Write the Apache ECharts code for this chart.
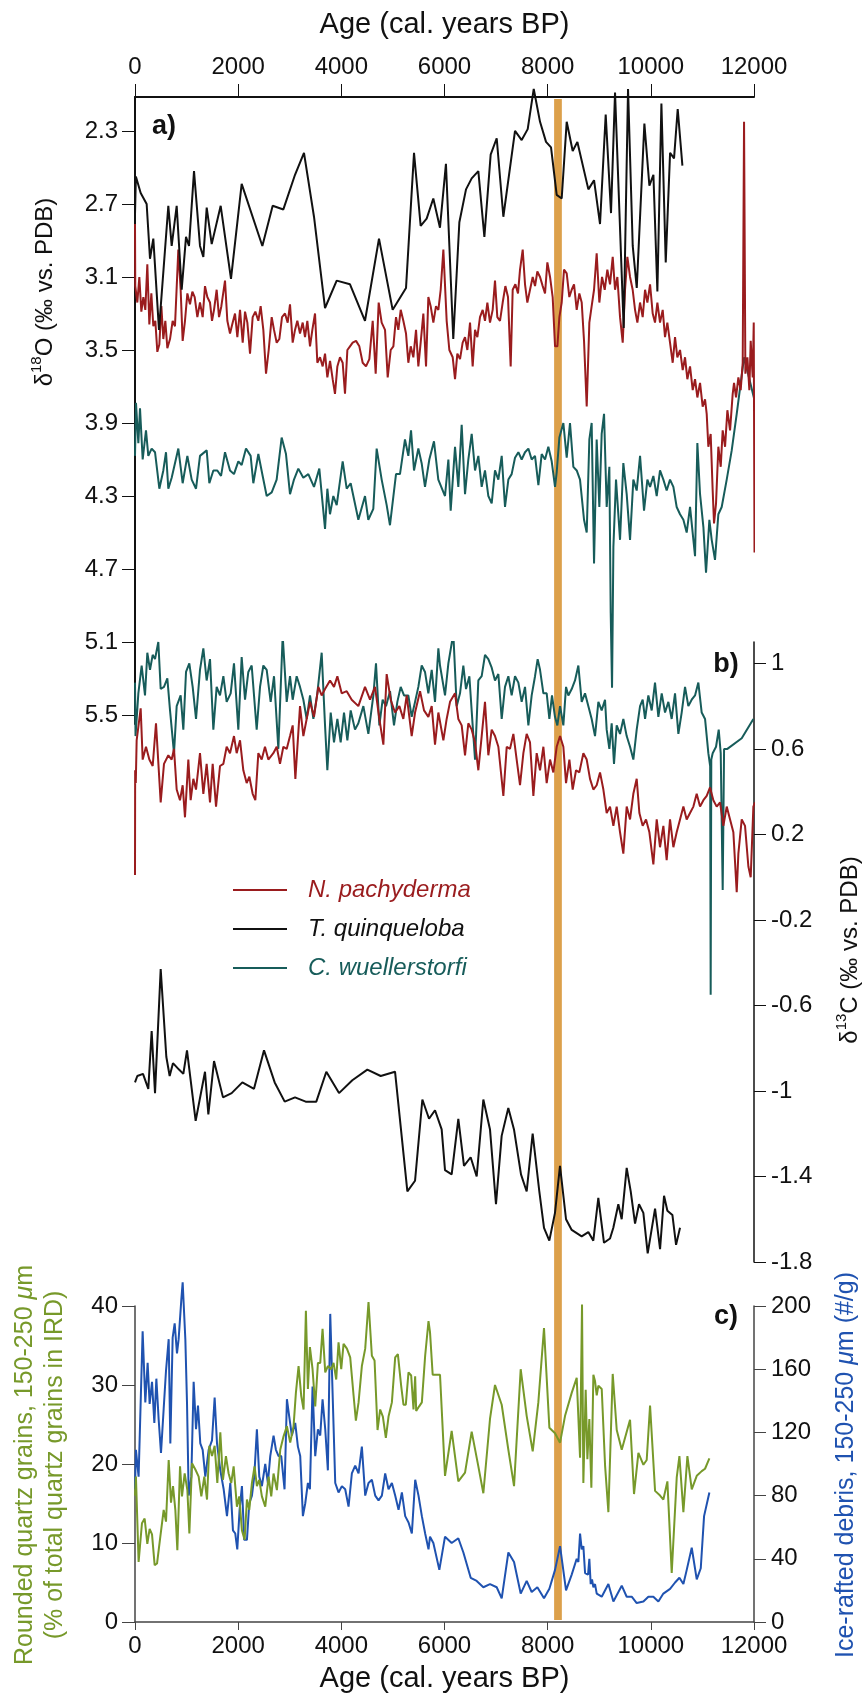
<!DOCTYPE html>
<html>
<head>
<meta charset="utf-8">
<script src="https://cdn.jsdelivr.net/npm/echarts@6/dist/echarts.min.js"></script>
<style>
html,body{margin:0;padding:0;background:#fff}
#chart{width:863px;height:1694px}
</style>
</head>
<body>
<div id="chart"></div>
<script>
// ages in cal. years BP
var ageRange = [0, 12000];
var o18Ticks = [2.3, 2.7, 3.1, 3.5, 3.9, 4.3, 4.7, 5.1, 5.5];
var c13Ticks = [1, 0.6, 0.2, -0.2, -0.6, -1, -1.4, -1.8];
var eventBand = [8125, 8275]; // orange bar ~8.2 ka

// a) d18O
var pachyO18 = [[0,2.81],[5,3.15],[20,3.14],[45,3.24],[84,3.10],[123,3.29],[162,3.21],[200,3.28],[239,3.03],[278,3.36],[317,3.19],[355,3.37],[394,3.34],[433,3.51],[472,3.47],[511,3.26],[549,3.44],[588,3.34],[627,3.49],[679,3.44],[730,3.34],[775,3.37],[840,2.95],[885,3.17],[924,3.45],[969,3.34],[1015,3.19],[1066,3.25],[1112,3.18],[1157,3.21],[1209,3.32],[1260,3.24],[1312,3.32],[1357,3.15],[1402,3.21],[1454,3.24],[1493,3.34],[1532,3.28],[1583,3.17],[1629,3.32],[1674,3.26],[1745,3.12],[1790,3.34],[1842,3.41],[1894,3.35],[1939,3.30],[1984,3.43],[2036,3.28],[2088,3.46],[2133,3.29],[2178,3.35],[2230,3.52],[2281,3.32],[2333,3.29],[2391,3.34],[2436,3.26],[2488,3.39],[2540,3.63],[2592,3.50],[2650,3.32],[2695,3.39],[2747,3.46],[2798,3.44],[2850,3.32],[2908,3.30],[2960,3.35],[3005,3.25],[3057,3.46],[3102,3.39],[3147,3.34],[3199,3.41],[3251,3.35],[3296,3.43],[3341,3.34],[3393,3.48],[3438,3.39],[3490,3.30],[3535,3.57],[3587,3.54],[3638,3.59],[3684,3.52],[3729,3.65],[3781,3.56],[3832,3.66],[3877,3.74],[3923,3.59],[3974,3.54],[4026,3.57],[4071,3.74],[4117,3.50],[4168,3.48],[4220,3.46],[4285,3.45],[4349,3.48],[4414,3.57],[4478,3.59],[4543,3.55],[4608,3.34],[4666,3.63],[4724,3.24],[4782,3.35],[4847,3.39],[4899,3.65],[4957,3.50],[5009,3.48],[5060,3.32],[5105,3.39],[5151,3.28],[5202,3.34],[5254,3.41],[5299,3.57],[5345,3.48],[5396,3.54],[5448,3.39],[5493,3.59],[5538,3.46],[5590,3.30],[5642,3.59],[5687,3.21],[5732,3.26],[5784,3.35],[5835,3.26],[5881,3.28],[5926,3.17],[5978,2.95],[6042,3.34],[6094,3.50],[6159,3.54],[6204,3.66],[6249,3.52],[6301,3.55],[6352,3.46],[6398,3.43],[6443,3.50],[6495,3.35],[6546,3.59],[6592,3.39],[6637,3.43],[6688,3.32],[6740,3.28],[6785,3.34],[6831,3.24],[6882,3.35],[6934,3.28],[6979,3.12],[7024,3.32],[7076,3.34],[7128,3.24],[7180,3.15],[7231,3.21],[7283,3.59],[7322,3.17],[7374,3.14],[7425,3.19],[7464,3.06],[7516,2.95],[7561,3.14],[7606,3.24],[7658,3.17],[7710,3.10],[7755,3.15],[7800,3.07],[7852,3.10],[7904,3.15],[7949,3.19],[7994,3.02],[8046,3.10],[8097,3.21],[8143,3.48],[8188,3.48],[8227,3.32],[8272,3.24],[8317,3.06],[8369,3.08],[8420,3.21],[8466,3.17],[8511,3.14],[8563,3.28],[8614,3.19],[8660,3.24],[8705,3.45],[8757,3.81],[8808,3.35],[8853,3.26],[8899,3.17],[8950,2.97],[9002,3.24],[9054,3.10],[9106,3.17],[9157,3.06],[9209,3.14],[9261,2.99],[9306,3.17],[9351,3.10],[9403,3.32],[9455,3.46],[9500,3.17],[9545,2.99],[9597,3.10],[9648,3.17],[9694,3.28],[9739,3.35],[9791,3.24],[9842,3.32],[9888,3.17],[9933,3.24],[9985,3.14],[10036,3.30],[10081,3.35],[10127,3.24],[10178,3.35],[10230,3.28],[10275,3.43],[10320,3.35],[10372,3.46],[10424,3.57],[10469,3.43],[10514,3.54],[10566,3.50],[10618,3.61],[10663,3.54],[10708,3.66],[10760,3.59],[10812,3.72],[10857,3.66],[10902,3.76],[10954,3.68],[11005,3.81],[11051,3.77],[11083,3.85],[11115,4.03],[11160,3.96],[11199,4.27],[11225,4.45],[11264,4.34],[11309,4.03],[11355,4.14],[11393,3.94],[11439,4.03],[11484,3.83],[11536,3.94],[11587,3.74],[11613,3.68],[11652,3.76],[11697,3.65],[11742,3.72],[11781,3.57],[11807,2.25],[11833,3.63],[11872,3.54],[11910,3.72],[11936,3.45],[11975,3.65],[11995,3.35],[12010,4.61],[12040,4.32]];

var quinqO18 = [[0,2.76],[17,2.55],[110,2.64],[226,2.70],[291,3.00],[355,2.89],[465,3.39],[646,2.71],[711,2.93],[808,2.71],[905,3.17],[989,2.88],[1047,2.93],[1144,2.52],[1260,2.93],[1325,2.99],[1390,2.72],[1487,2.92],[1661,2.71],[1861,3.11],[2068,2.59],[2469,2.93],[2669,2.71],[2876,2.73],[3102,2.54],[3276,2.42],[3470,2.77],[3684,3.27],[3910,3.12],[4168,3.14],[4459,3.34],[4730,2.89],[4995,3.28],[5254,3.16],[5409,2.42],[5538,2.82],[5654,2.78],[5783,2.67],[5912,2.83],[6028,2.48],[6170,3.44],[6288,2.80],[6417,2.62],[6527,2.56],[6656,2.52],[6773,2.88],[6895,2.43],[7012,2.34],[7141,2.77],[7367,2.30],[7496,2.35],[7613,2.29],[7730,2.07],[7852,2.25],[7968,2.36],[8065,2.39],[8175,2.65],[8272,2.67],[8369,2.25],[8485,2.41],[8576,2.36],[8789,2.62],[8899,2.57],[9015,2.81],[9125,2.21],[9228,2.75],[9306,2.09],[9474,3.38],[9558,2.07],[9649,2.93],[9727,3.16],[9875,2.26],[9972,2.60],[10050,2.54],[10127,3.18],[10205,2.15],[10289,3.02],[10373,2.42],[10450,2.45],[10521,2.18],[10612,2.49]];

var wuellO18 = [[0,4.08],[19,3.79],[65,4.01],[97,3.82],[149,4.10],[213,3.94],[258,4.08],[323,4.04],[388,4.06],[472,4.26],[549,4.16],[601,4.06],[646,4.26],[711,4.20],[840,4.04],[924,4.23],[1015,4.08],[1099,4.21],[1183,4.26],[1260,4.08],[1390,4.05],[1441,4.23],[1519,4.16],[1596,4.16],[1668,4.19],[1745,4.06],[1842,4.16],[1919,4.18],[2003,4.11],[2068,4.13],[2152,4.04],[2242,4.08],[2294,4.23],[2391,4.07],[2475,4.19],[2553,4.30],[2650,4.28],[2746,4.21],[2843,3.98],[2927,4.07],[3005,4.29],[3082,4.21],[3166,4.15],[3263,4.20],[3360,4.18],[3470,4.25],[3573,4.15],[3684,4.48],[3729,4.26],[3780,4.40],[3845,4.30],[3910,4.35],[4026,4.11],[4104,4.26],[4181,4.23],[4330,4.43],[4459,4.30],[4523,4.43],[4620,4.37],[4685,4.04],[4782,4.21],[4879,4.35],[4943,4.46],[5060,4.18],[5137,4.18],[5234,3.99],[5299,4.08],[5351,3.94],[5409,4.16],[5493,4.04],[5557,4.12],[5622,4.25],[5706,4.10],[5796,4.00],[5880,4.21],[5913,4.21],[6010,4.30],[6075,4.10],[6120,4.38],[6204,4.03],[6268,4.25],[6333,3.91],[6398,4.29],[6462,4.10],[6527,3.96],[6592,4.16],[6656,4.08],[6721,4.25],[6785,4.16],[6850,4.30],[6915,4.34],[6979,4.16],[7044,4.21],[7109,4.08],[7173,4.36],[7238,4.21],[7302,4.18],[7367,4.09],[7432,4.06],[7496,4.10],[7561,4.06],[7626,4.04],[7690,4.10],[7755,4.08],[7820,4.24],[7884,4.07],[7949,4.10],[8013,4.03],[8078,4.11],[8143,4.25],[8175,4.17],[8227,3.98],[8304,3.90],[8369,4.09],[8433,3.90],[8498,4.14],[8563,4.16],[8627,4.21],[8705,4.43],[8757,4.50],[8808,3.99],[8853,3.90],[8899,4.67],[8950,3.99],[9002,4.36],[9047,3.96],[9093,3.85],[9144,4.36],[9196,4.14],[9222,4.94],[9248,5.35],[9274,4.58],[9325,4.21],[9403,4.54],[9467,4.12],[9532,4.29],[9597,4.54],[9661,4.21],[9726,4.27],[9791,4.08],[9868,4.38],[9933,4.21],[9985,4.25],[10049,4.19],[10114,4.30],[10178,4.16],[10243,4.21],[10307,4.27],[10372,4.21],[10437,4.25],[10501,4.36],[10566,4.40],[10631,4.43],[10695,4.50],[10760,4.36],[10825,4.54],[10857,4.63],[10902,4.01],[10954,4.29],[11019,4.47],[11070,4.72],[11135,4.43],[11180,4.54],[11244,4.65],[11309,4.40],[11374,4.36],[11471,4.21],[11568,4.05],[11665,3.85],[11807,3.54],[12040,3.81]];

// b) d13C
var pachyC13 = [[0,0.01],[3,0.50],[15,0.44],[32,0.64],[110,0.79],[149,0.55],[213,0.61],[278,0.55],[343,0.52],[407,0.72],[498,0.35],[562,0.53],[646,0.57],[711,0.55],[756,0.60],[808,0.41],[872,0.36],[924,0.43],[969,0.28],[1034,0.55],[1079,0.36],[1131,0.46],[1183,0.41],[1260,0.58],[1325,0.39],[1389,0.53],[1454,0.35],[1506,0.53],[1571,0.33],[1648,0.52],[1713,0.53],[1777,0.61],[1842,0.58],[1919,0.66],[1971,0.58],[2036,0.64],[2100,0.50],[2165,0.44],[2217,0.47],[2281,0.39],[2333,0.36],[2391,0.58],[2456,0.55],[2520,0.61],[2585,0.55],[2682,0.58],[2747,0.61],[2811,0.53],[2876,0.61],[2941,0.60],[3005,0.66],[3057,0.71],[3109,0.46],[3199,0.80],[3264,0.66],[3328,0.74],[3393,0.82],[3470,0.75],[3554,0.89],[3619,0.85],[3684,0.88],[3781,0.92],[3858,0.89],[3923,0.94],[4007,0.86],[4104,0.87],[4201,0.83],[4330,0.80],[4459,0.89],[4556,0.83],[4653,0.89],[4737,0.74],[4815,0.62],[4879,0.95],[4957,0.83],[5041,0.77],[5125,0.80],[5202,0.74],[5267,0.85],[5364,0.66],[5429,0.77],[5526,0.87],[5603,0.78],[5687,0.75],[5752,0.80],[5816,0.62],[5881,0.77],[5913,0.77],[5978,0.64],[6042,0.74],[6107,0.82],[6204,0.86],[6268,0.74],[6333,0.71],[6398,0.57],[6462,0.72],[6527,0.69],[6592,0.63],[6656,0.50],[6721,0.66],[6785,0.82],[6850,0.57],[6915,0.69],[6979,0.66],[7044,0.61],[7141,0.38],[7206,0.61],[7270,0.60],[7335,0.67],[7399,0.55],[7464,0.43],[7529,0.58],[7593,0.67],[7658,0.63],[7723,0.38],[7787,0.58],[7852,0.50],[7917,0.61],[7981,0.44],[8046,0.55],[8110,0.49],[8175,0.61],[8240,0.66],[8304,0.61],[8356,0.44],[8421,0.55],[8485,0.41],[8550,0.50],[8614,0.49],[8692,0.58],[8757,0.55],[8821,0.46],[8886,0.41],[8950,0.43],[9015,0.49],[9080,0.41],[9144,0.30],[9209,0.33],[9274,0.24],[9338,0.33],[9403,0.21],[9467,0.11],[9532,0.33],[9597,0.27],[9661,0.39],[9726,0.46],[9778,0.30],[9842,0.24],[9907,0.27],[9972,0.21],[10049,0.06],[10114,0.27],[10178,0.14],[10243,0.24],[10307,0.08],[10372,0.27],[10437,0.14],[10501,0.21],[10566,0.27],[10631,0.33],[10695,0.27],[10760,0.30],[10825,0.33],[10889,0.39],[10954,0.33],[11019,0.36],[11083,0.38],[11148,0.42],[11212,0.36],[11277,0.33],[11342,0.35],[11406,0.24],[11471,0.33],[11536,0.27],[11600,0.21],[11665,-0.07],[11697,0.11],[11762,0.27],[11826,0.24],[11891,0.05],[11936,0.00],[11988,0.33],[12020,0.35]];

var quinqC13 = [[0,-0.96],[45,-0.93],[155,-0.92],[258,-0.99],[323,-0.72],[388,-1.01],[498,-0.43],[607,-0.84],[672,-0.93],[736,-0.87],[853,-0.90],[937,-0.92],[1008,-0.81],[1176,-1.14],[1357,-0.91],[1422,-1.11],[1532,-0.86],[1706,-1.03],[1874,-1.01],[2081,-0.96],[2307,-0.99],[2501,-0.81],[2708,-0.96],[2902,-1.05],[3102,-1.03],[3309,-1.05],[3515,-1.05],[3709,-0.91],[3955,-1.01],[4213,-0.95],[4504,-0.90],[4763,-0.93],[5041,-0.91],[5280,-1.47],[5429,-1.42],[5571,-1.04],[5700,-1.13],[5816,-1.09],[5945,-1.18],[6010,-1.37],[6139,-1.39],[6268,-1.13],[6378,-1.35],[6507,-1.31],[6624,-1.40],[6753,-1.04],[6882,-1.18],[6998,-1.53],[7108,-1.21],[7237,-1.08],[7347,-1.18],[7483,-1.39],[7593,-1.47],[7709,-1.20],[7838,-1.47],[7929,-1.64],[8032,-1.70],[8142,-1.57],[8239,-1.35],[8356,-1.60],[8466,-1.65],[8659,-1.68],[8788,-1.66],[8885,-1.70],[8982,-1.50],[9092,-1.71],[9209,-1.69],[9273,-1.64],[9370,-1.53],[9435,-1.60],[9532,-1.36],[9610,-1.47],[9694,-1.62],[9771,-1.53],[9855,-1.57],[9939,-1.76],[10082,-1.55],[10179,-1.74],[10256,-1.49],[10321,-1.56],[10418,-1.58],[10489,-1.72],[10566,-1.64]];

var wuellC13 = [[0,0.91],[10,0.66],[65,0.86],[129,0.99],[194,0.85],[239,1.05],[291,0.97],[343,1.04],[388,1.02],[452,1.10],[498,0.88],[562,0.89],[627,0.93],[679,0.78],[756,0.58],[808,0.80],[885,0.85],[937,0.69],[989,0.96],[1053,1.00],[1118,0.89],[1183,0.74],[1260,0.97],[1325,1.07],[1389,0.92],[1454,1.02],[1519,0.69],[1583,0.89],[1648,0.85],[1713,0.94],[1777,0.82],[1855,0.86],[1919,1.00],[2003,0.69],[2068,1.03],[2133,0.83],[2197,0.96],[2262,0.99],[2359,0.69],[2424,0.89],[2488,0.99],[2553,0.97],[2630,0.82],[2695,0.94],[2779,0.60],[2863,1.13],[2941,0.82],[3005,0.94],[3057,0.83],[3134,0.94],[3199,0.89],[3264,0.83],[3328,0.74],[3393,0.85],[3458,0.74],[3535,0.86],[3619,1.05],[3684,0.71],[3729,0.50],[3794,0.77],[3858,0.63],[3923,0.74],[3987,0.63],[4052,0.77],[4117,0.64],[4181,0.78],[4265,0.69],[4330,0.72],[4427,0.80],[4524,0.67],[4621,0.85],[4672,1.00],[4737,0.71],[4801,0.83],[4866,0.80],[4944,0.87],[5021,0.71],[5086,0.82],[5151,0.89],[5215,0.85],[5299,0.85],[5364,0.75],[5429,0.82],[5493,0.89],[5558,0.99],[5622,0.96],[5687,0.86],[5752,0.97],[5816,0.82],[5881,1.07],[5913,0.99],[6010,0.85],[6075,1.00],[6171,1.14],[6236,0.80],[6301,0.86],[6365,0.99],[6417,0.88],[6482,0.94],[6546,0.71],[6592,0.55],[6656,0.92],[6721,0.94],[6785,1.04],[6850,1.02],[6915,0.98],[6979,0.92],[7044,0.95],[7109,0.74],[7173,0.89],[7238,0.94],[7302,0.85],[7367,0.94],[7432,0.91],[7496,0.82],[7561,0.89],[7626,0.71],[7690,0.85],[7755,0.94],[7806,1.02],[7852,0.97],[7917,0.86],[7981,0.86],[8033,0.74],[8084,0.85],[8142,0.75],[8188,0.71],[8240,0.80],[8304,0.71],[8356,0.89],[8401,0.85],[8466,0.88],[8530,0.92],[8595,0.99],[8660,0.82],[8724,0.86],[8789,0.80],[8853,0.74],[8918,0.66],[8983,0.82],[9047,0.78],[9112,0.83],[9144,0.69],[9196,0.60],[9241,0.72],[9286,0.53],[9338,0.71],[9403,0.67],[9467,0.74],[9532,0.66],[9597,0.61],[9661,0.55],[9726,0.69],[9791,0.80],[9842,0.83],[9888,0.74],[9952,0.85],[10017,0.78],[10081,0.91],[10146,0.75],[10211,0.86],[10275,0.77],[10340,0.82],[10404,0.74],[10469,0.86],[10534,0.67],[10598,0.77],[10663,0.89],[10727,0.80],[10792,0.83],[10857,0.85],[10921,0.91],[10986,0.77],[11051,0.74],[11115,0.58],[11150,0.52],[11160,-0.55],[11172,0.55],[11199,0.58],[11264,0.61],[11316,0.69],[11355,0.58],[11393,-0.06],[11420,0.60],[11484,0.60],[11762,0.65],[11988,0.74]];

// c) rounded quartz (%) and IRD (#/g)
var roundedQuartz = [[0,16.0],[18,18.4],[70,7.6],[135,12.5],[187,13.1],[239,9.9],[284,11.8],[330,11.1],[381,7.2],[427,7.4],[491,10.8],[556,14.2],[601,12.7],[653,20.5],[698,15.1],[737,17.2],[782,14.2],[821,9.1],[873,19.7],[911,15.9],[963,18.8],[1015,16.7],[1054,11.2],[1105,20.1],[1170,19.3],[1234,18.4],[1286,15.9],[1344,18.4],[1396,15.5],[1441,22.3],[1493,21.0],[1544,22.3],[1596,17.6],[1654,24.0],[1705,18.0],[1763,21.0],[1815,18.8],[1866,17.6],[1912,19.7],[1976,14.6],[2021,15.9],[2073,11.6],[2125,10.4],[2170,15.5],[2215,14.2],[2267,17.6],[2318,19.7],[2363,17.2],[2409,18.0],[2460,15.9],[2525,14.6],[2590,18.4],[2641,15.9],[2686,18.8],[2751,16.7],[2816,21.8],[2880,23.5],[2945,24.8],[3009,22.7],[3074,24.8],[3119,29.0],[3171,32.4],[3223,28.6],[3268,26.9],[3313,39.4],[3352,29.5],[3391,34.8],[3442,32.0],[3494,27.3],[3546,32.8],[3591,32.8],[3636,37.1],[3688,31.6],[3739,32.4],[3804,32.0],[3849,32.8],[3901,30.7],[3946,35.4],[3998,32.0],[4043,35.2],[4108,34.6],[4172,33.5],[4237,28.7],[4282,25.5],[4334,27.8],[4398,32.4],[4463,34.6],[4527,40.5],[4592,33.7],[4644,33.1],[4702,24.3],[4753,26.9],[4805,26.0],[4863,23.3],[4915,26.0],[4980,27.8],[5044,33.5],[5096,33.9],[5160,29.9],[5205,27.5],[5250,27.5],[5302,31.6],[5354,31.2],[5399,26.9],[5431,31.1],[5451,26.7],[5509,27.3],[5561,27.8],[5625,33.7],[5690,38.1],[5719,36.7],[5771,31.3],[5913,31.3],[6010,18.5],[6139,24.2],[6268,17.8],[6398,18.9],[6527,24.1],[6656,19.7],[6753,16.3],[6882,25.7],[6979,30.0],[7109,27.5],[7238,21.8],[7348,17.2],[7477,32.0],[7593,26.1],[7710,21.6],[7819,27.8],[7929,37.2],[8033,24.6],[8143,23.9],[8240,22.7],[8337,26.1],[8466,29.0],[8563,30.9],[8628,20.8],[8666,40.2],[8692,17.6],[8737,29.4],[8770,20.6],[8808,25.7],[8847,17.0],[8886,31.3],[8918,30.5],[8951,28.7],[8983,29.9],[9048,29.5],[9113,19.8],[9177,13.9],[9261,31.4],[9339,24.3],[9436,21.8],[9597,25.6],[9674,16.2],[9759,21.4],[9856,19.9],[9920,20.5],[9985,27.4],[10082,16.6],[10179,16.0],[10243,15.5],[10321,17.8],[10405,6.2],[10502,18.3],[10554,21.0],[10631,13.9],[10709,21.0],[10793,16.8],[10890,18.5],[10987,19.1],[11051,19.4],[11135,20.7]];

var irdCount = [[0,84],[18,109],[70,92],[148,184],[200,139],[245,164],[284,138],[330,152],[375,126],[414,154],[459,128],[504,107],[556,135],[601,159],[653,179],[685,113],[730,180],[769,189],[814,170],[846,179],[898,204],[924,215],[976,179],[1008,139],[1041,80],[1092,92],[1137,152],[1183,122],[1221,137],[1266,113],[1312,109],[1363,92],[1428,109],[1493,115],[1544,142],[1590,113],[1654,96],[1719,84],[1783,67],[1848,88],[1899,58],[1944,56],[1983,46],[2028,71],[2073,86],[2118,52],[2170,52],[2215,75],[2267,80],[2312,92],[2363,122],[2409,92],[2460,86],[2525,100],[2576,88],[2622,105],[2686,118],[2732,109],[2783,105],[2835,105],[2899,84],[2945,141],[2990,130],[3041,118],[3106,126],[3158,111],[3203,105],[3255,67],[3300,75],[3352,88],[3391,84],[3442,149],[3494,105],[3546,122],[3591,118],[3636,141],[3688,122],[3739,96],[3785,195],[3817,160],[3882,88],[3946,82],[4011,86],[4075,84],[4140,73],[4204,94],[4269,99],[4334,94],[4398,111],[4463,80],[4527,88],[4592,90],[4657,80],[4721,77],[4786,80],[4850,94],[4915,84],[4980,88],[5044,80],[5109,71],[5174,82],[5238,67],[5303,63],[5367,56],[5432,90],[5496,80],[5561,67],[5625,56],[5690,46],[5719,54],[5784,50],[5900,33],[6010,54],[6139,50],[6268,53],[6366,44],[6508,28],[6624,26],[6753,22],[6882,24],[7012,22],[7109,15],[7238,44],[7348,38],[7477,18],[7593,26],[7690,19],[7800,22],[7929,15],[8033,21],[8143,33],[8240,48],[8356,20],[8466,30],[8563,40],[8595,38],[8628,56],[8660,46],[8692,48],[8725,31],[8757,32],[8783,30],[8808,40],[8834,24],[8860,27],[8886,22],[8918,24],[8951,18],[9048,16],[9177,24],[9274,13],[9436,23],[9532,16],[9629,16],[9726,12],[9856,13],[9952,16],[10049,16],[10146,13],[10243,18],[10373,21],[10470,25],[10554,28],[10631,24],[10696,33],[10793,47],[10890,27],[10968,34],[11032,67],[11135,82]];

var FONT = 'Liberation Sans, Arial, Helvetica, sans-serif';
var RED = '#9a1c1e', BLACK = '#111111', TEAL = '#175c5a';
var GREEN = '#77992a', BLUE = '#1f52b0', ORANGE = '#dca04a';

var myChart = echarts.init(document.getElementById('chart'));

function lineSeries(name, data, xi, yi, color, extra) {
    var s = {
        name: name,
        type: 'line',
        xAxisIndex: xi,
        yAxisIndex: yi,
        data: data,
        symbol: 'none',
        color: color,
        lineStyle: { color: color, width: 2 },
        z: 3
    };
    for (var k in extra) s[k] = extra[k];
    return s;
}

function plain(v) { return String(v); }
var tickLabel = { fontSize: 24, color: '#111', fontFamily: FONT, margin: 17 };

var option = {
    animation: false,
    backgroundColor: '#fff',
    textStyle: { fontFamily: FONT },
    grid: [
        { left: 135, right: 109, top: 97, height: 627 },   // a) d18O
        { left: 135, right: 109, top: 642, height: 620 },  // b) d13C
        { left: 135, right: 109, top: 1306, height: 316 }, // c)
        { left: 135, right: 109, top: 99, height: 1521 }   // event band
    ],
    xAxis: [
        {
            gridIndex: 0, type: 'value', position: 'top', min: ageRange[0], max: ageRange[1], interval: 2000,
            name: 'Age (cal. years BP)', nameLocation: 'middle', nameGap: 58,
            nameTextStyle: { fontSize: 29, color: '#111', fontFamily: FONT },
            axisLine: { onZero: false, lineStyle: { color: '#111', width: 2 } },
            axisTick: { length: 13, lineStyle: { color: '#111', width: 1 } },
            axisLabel: { fontSize: 24, color: '#111', fontFamily: FONT, margin: 18, formatter: plain },
            splitLine: { show: false }
        },
        { gridIndex: 1, type: 'value', min: ageRange[0], max: ageRange[1], show: false },
        {
            gridIndex: 2, type: 'value', position: 'bottom', min: ageRange[0], max: ageRange[1], interval: 2000,
            name: 'Age (cal. years BP)', nameLocation: 'middle', nameGap: 42,
            nameTextStyle: { fontSize: 29, color: '#111', fontFamily: FONT },
            axisLine: { onZero: false, lineStyle: { color: '#444', width: 1.5 } },
            axisTick: { length: 8, lineStyle: { color: '#444' } },
            axisLabel: { fontSize: 24, color: '#111', fontFamily: FONT, margin: 12, formatter: plain },
            splitLine: { show: false }
        },
        { gridIndex: 3, type: 'value', min: ageRange[0], max: ageRange[1], show: false }
    ],
    yAxis: [
        {
            gridIndex: 0, type: 'value', inverse: true, min: 2.114, max: 5.549, position: 'left',
            axisLine: { show: true, onZero: false, lineStyle: { color: '#111', width: 2 } },
            axisTick: { show: true, length: 13, customValues: o18Ticks, lineStyle: { color: '#111' } },
            axisLabel: { customValues: o18Ticks, fontSize: 24, color: '#111', fontFamily: FONT, margin: 17 },
            splitLine: { show: false }
        },
        {
            gridIndex: 1, type: 'value', min: -1.8, max: 1.1, position: 'right',
            axisLine: { show: true, onZero: false, lineStyle: { color: '#111', width: 1.5 } },
            axisTick: { show: true, length: 12, customValues: c13Ticks, lineStyle: { color: '#111' } },
            axisLabel: { customValues: c13Ticks, fontSize: 24, color: '#111', fontFamily: FONT, margin: 17 },
            splitLine: { show: false }
        },
        {
            gridIndex: 2, type: 'value', min: 0, max: 40, interval: 10, position: 'left',
            axisLine: { show: true, onZero: false, lineStyle: { color: '#444', width: 1.5 } },
            axisTick: { show: true, length: 13, lineStyle: { color: '#444' } },
            axisLabel: tickLabel,
            splitLine: { show: false }
        },
        {
            gridIndex: 2, type: 'value', min: 0, max: 200, interval: 40, position: 'right',
            axisLine: { show: true, onZero: false, lineStyle: { color: '#444', width: 1.5 } },
            axisTick: { show: true, length: 12, lineStyle: { color: '#444' } },
            axisLabel: tickLabel,
            splitLine: { show: false }
        },
        { gridIndex: 3, type: 'value', min: 0, max: 1, show: false }
    ],
    legend: {
        orient: 'vertical',
        left: 228,
        top: 873,
        icon: 'rect',
        itemWidth: 54,
        itemHeight: 2,
        itemGap: 15,
        textStyle: { fontSize: 24, fontStyle: 'italic', fontFamily: FONT, padding: [0, 0, 0, 16], lineHeight: 24 },
        data: [
            { name: 'N. pachyderma', textStyle: { color: RED } },
            { name: 'T. quinqueloba', textStyle: { color: BLACK } },
            { name: 'C. wuellerstorfi', textStyle: { color: TEAL } }
        ]
    },
    graphic: [
        { type: 'text', x: 164, y: 127, style: { text: 'a)', font: 'bold 27px ' + FONT, fill: '#111', align: 'center', verticalAlign: 'middle' } },
        { type: 'text', x: 726, y: 665, style: { text: 'b)', font: 'bold 27px ' + FONT, fill: '#111', align: 'center', verticalAlign: 'middle' } },
        { type: 'text', x: 726, y: 1317, style: { text: 'c)', font: 'bold 27px ' + FONT, fill: '#111', align: 'center', verticalAlign: 'middle' } },
        {
            type: 'text', x: 43, y: 292, rotation: Math.PI / 2,
            style: {
                text: '{a|δ}{s|18}{a|O (‰ vs. PDB)}', fill: '#111', align: 'center', verticalAlign: 'middle',
                rich: { a: { fontSize: 24, fontFamily: FONT, lineHeight: 28, verticalAlign: 'bottom' }, s: { fontSize: 15, fontFamily: FONT, lineHeight: 26, verticalAlign: 'top' } }
            }
        },
        {
            type: 'text', x: 848, y: 950, rotation: Math.PI / 2,
            style: {
                text: '{a|δ}{s|13}{a|C (‰ vs. PDB)}', fill: '#111', align: 'center', verticalAlign: 'middle',
                rich: { a: { fontSize: 24, fontFamily: FONT, lineHeight: 28, verticalAlign: 'bottom' }, s: { fontSize: 15, fontFamily: FONT, lineHeight: 26, verticalAlign: 'top' } }
            }
        },
        {
            type: 'text', x: 40, y: 1465, rotation: Math.PI / 2,
            style: {
                text: '{a|Rounded quartz grains, 150-250 }{i|μ}{a|m}\n{a|(% of total quartz grains in IRD)}', fill: GREEN, align: 'center', verticalAlign: 'middle',
                rich: { a: { fontSize: 25, fontFamily: FONT, lineHeight: 30 }, i: { fontSize: 25, fontFamily: FONT, fontStyle: 'italic', lineHeight: 30 } }
            }
        },
        {
            type: 'text', x: 846, y: 1465, rotation: Math.PI / 2,
            style: {
                text: '{a|Ice-rafted debris, 150-250 }{i|μ}{a|m (#/g)}', fill: BLUE, align: 'center', verticalAlign: 'middle',
                rich: { a: { fontSize: 25, fontFamily: FONT }, i: { fontSize: 25, fontFamily: FONT, fontStyle: 'italic' } }
            }
        }
    ],
    series: [
        {
            name: 'event', type: 'line', xAxisIndex: 3, yAxisIndex: 4, data: [[8200, 0.5]], symbol: 'none', z: 1,
            lineStyle: { opacity: 0 },
            markArea: { silent: true, itemStyle: { color: ORANGE, opacity: 1 }, data: [[{ xAxis: eventBand[0] }, { xAxis: eventBand[1] }]] }
        },
        lineSeries('C. wuellerstorfi', wuellO18, 0, 0, TEAL),
        lineSeries('N. pachyderma', pachyO18, 0, 0, RED, { clip: false }),
        lineSeries('T. quinqueloba', quinqO18, 0, 0, BLACK, { clip: false }),
        lineSeries('C. wuellerstorfi', wuellC13, 1, 1, TEAL),
        lineSeries('N. pachyderma', pachyC13, 1, 1, RED, { clip: false }),
        lineSeries('T. quinqueloba', quinqC13, 1, 1, BLACK),
        lineSeries('Ice-rafted debris', irdCount, 2, 3, BLUE, { clip: false }),
        lineSeries('Rounded quartz grains', roundedQuartz, 2, 2, GREEN, { clip: false })
    ]
};
myChart.setOption(option);
</script>
</body>
</html>
